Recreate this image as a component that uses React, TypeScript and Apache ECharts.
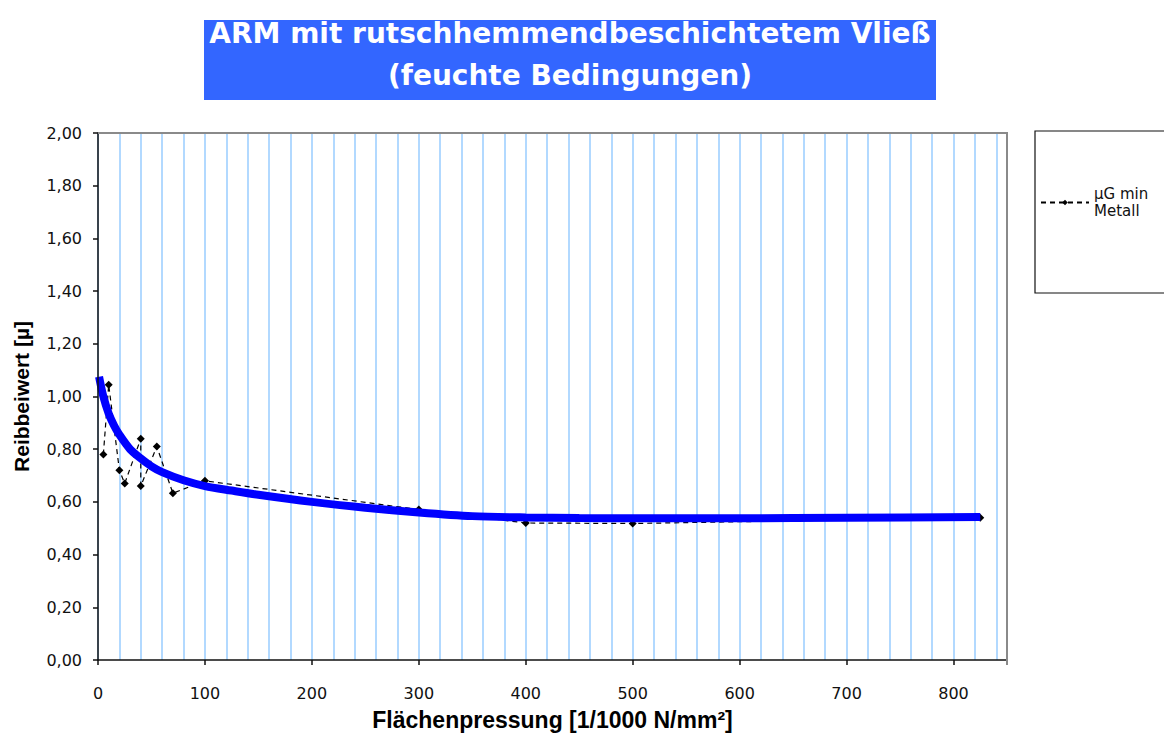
import React, { useEffect, useRef } from "react";
import * as echarts from "echarts";

const TITLE_LINE_1 = "ARM mit rutschhemmendbeschichtetem Vließ";
const TITLE_LINE_2 = "(feuchte Bedingungen)";
const X_AXIS_NAME = "Flächenpressung [1/1000 N/mm²]";
const Y_AXIS_NAME = "Reibbeiwert [µ]";
const SERIES_NAME = "µG min Metall";

// measured points (Flächenpressung, Reibbeiwert)
const measX = [5, 10, 20, 25, 40, 40, 55, 70, 100, 300, 400, 500, 825];
const measY = [0.78, 1.045, 0.72, 0.67, 0.84, 0.66, 0.81, 0.633, 0.68, 0.571, 0.52, 0.518, 0.54];

// trend curve (thick blue)
const trendX = [1, 5, 10, 15, 20, 30, 40, 50, 60, 80, 100, 125, 150, 200, 250, 300, 350, 400, 450, 500, 600, 700, 825];
const trendY = [1.075, 1.0, 0.935, 0.89, 0.855, 0.8, 0.765, 0.735, 0.713, 0.682, 0.66, 0.643, 0.627, 0.6, 0.578, 0.56, 0.546, 0.541, 0.539, 0.538, 0.538, 0.54, 0.543];

const xLabelValues = [0, 100, 200, 300, 400, 500, 600, 700, 800];

export default function App() {
  const ref = useRef<HTMLDivElement>(null);
  useEffect(() => {
    document.body.style.margin = "0";
    if (!ref.current) return;
    const chart = echarts.init(ref.current, null, { renderer: "svg" });
    const labelFont = { fontFamily: "DejaVu Sans", fontSize: 16, color: "#111" };
    chart.setOption({
      animation: false,
      backgroundColor: "#ffffff",
      grid: { left: 98, right: 157, top: 133, bottom: 71, containLabel: false },
      xAxis: [
        {
          type: "value",
          min: 0,
          max: 850,
          interval: 20,
          name: X_AXIS_NAME,
          nameLocation: "middle",
          nameGap: 48,
          nameTextStyle: { fontFamily: "Liberation Sans", fontWeight: "bold", fontSize: 23, color: "#000" },
          axisLine: { show: true, onZero: false, lineStyle: { color: "#111", width: 1.5 } },
          axisTick: { show: true, customValues: xLabelValues, length: 5, lineStyle: { color: "#111", width: 1.5 } },
          axisLabel: { customValues: xLabelValues, margin: 25, ...labelFont },
          splitLine: { show: false },
          z: 5,
        },
        {
          type: "value",
          min: 0,
          max: 850,
          interval: 20,
          position: "bottom",
          axisLine: { show: false },
          axisTick: { show: false },
          axisLabel: { show: false },
          splitLine: { show: true, lineStyle: { color: "#99ccff", width: 1.5 } },
          z: 0,
        },
      ],
      yAxis: {
        type: "value",
        min: 0,
        max: 2,
        interval: 0.2,
        name: Y_AXIS_NAME,
        nameLocation: "middle",
        nameGap: 66,
        nameTextStyle: { fontFamily: "Liberation Sans", fontWeight: "bold", fontSize: 21, color: "#000" },
        axisLine: { show: true, onZero: false, lineStyle: { color: "#111", width: 1.5 } },
        axisTick: { show: true, length: 5, lineStyle: { color: "#111", width: 1.5 } },
        axisLabel: {
          margin: 16,
          ...labelFont,
          formatter: (v: number) => v.toFixed(2).replace(".", ","),
        },
        splitLine: { show: false },
        z: 5,
      },
      legend: {
        data: [SERIES_NAME],
        left: 1040,
        top: 177,
        padding: 0,
        itemWidth: 48,
        itemHeight: 7,
        formatter: () => "µG min\nMetall",
        textStyle: { fontFamily: "DejaVu Sans", fontSize: 15, lineHeight: 17, color: "#111", padding: [17, 0, 0, 0] },
      },
      graphic: [
        {
          type: "rect",
          shape: { x: 204, y: 20, width: 732, height: 80 },
          style: { fill: "#3366ff" },
          z: 10,
        },
        {
          type: "text",
          x: 570,
          y: 33,
          style: {
            text: TITLE_LINE_1,
            fill: "#ffffff",
            font: "bold 28px 'DejaVu Sans'",
            textAlign: "center",
            textVerticalAlign: "middle",
          },
          z: 11,
        },
        {
          type: "text",
          x: 570,
          y: 75,
          style: {
            text: TITLE_LINE_2,
            fill: "#ffffff",
            font: "bold 28px 'DejaVu Sans'",
            textAlign: "center",
            textVerticalAlign: "middle",
          },
          z: 11,
        },
        {
          type: "polyline",
          shape: { points: [[98, 133], [1007, 133], [1007, 665]] },
          style: { stroke: "#8a8a8a", lineWidth: 2, fill: "none" },
          z: 100,
        },
        {
          type: "rect",
          shape: { x: 1035, y: 131, width: 140, height: 162 },
          style: { stroke: "#111", lineWidth: 1.2, fill: "none" },
          z: 10,
        },
      ],
      series: [
        {
          name: SERIES_NAME,
          type: "line",
          xAxisIndex: 0,
          data: measX.map((x, i) => [x, measY[i]]),
          symbol: "diamond",
          symbolSize: 8,
          itemStyle: { color: "#000" },
          lineStyle: { color: "#000", width: 1.2, type: [5, 4] },
          z: 3,
        },
        {
          name: "Trend",
          type: "line",
          xAxisIndex: 0,
          data: trendX.map((x, i) => [x, trendY[i]]),
          smooth: 0.3,
          showSymbol: false,
          lineStyle: { color: "#0000ff", width: 8 },
          itemStyle: { color: "#0000ff" },
          z: 4,
        },
      ],
    });
    return () => chart.dispose();
  }, []);
  return <div ref={ref} style={{ width: 1164, height: 736 }} />;
}
